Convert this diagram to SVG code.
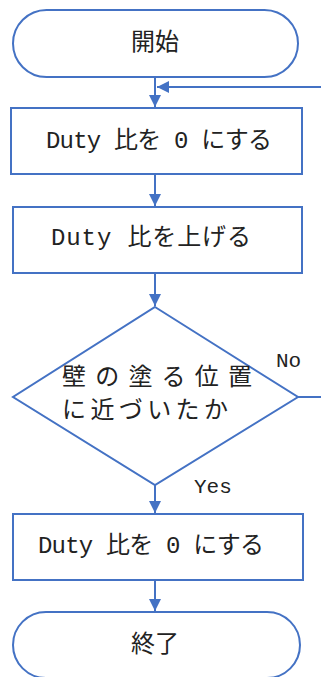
<svg xmlns="http://www.w3.org/2000/svg" width="321" height="677" viewBox="0 0 321 677">
<defs>
<marker id="ah" viewBox="0 0 10 10" refX="10" refY="5" markerWidth="6" markerHeight="6" markerUnits="strokeWidth" orient="auto">
<path d="M0,0 L10,5 L0,10 Z" fill="#4472C4"/>
</marker>
</defs>
<style>
.s{fill:#fff;stroke:#4472C4;stroke-width:2}
.c{fill:none;stroke:#4472C4;stroke-width:2}
.t{font-family:"Liberation Mono","Noto Sans CJK JP",monospace;font-size:24px;fill:#222;text-anchor:middle;dominant-baseline:central}
.l{font-family:"Liberation Mono",monospace;font-size:21px;fill:#222}
</style>
<rect width="321" height="677" fill="#fff"/>
<g id="start"><rect class="s" x="13" y="10" width="285" height="67" rx="33.5"/><text class="t" x="155" y="43">開始</text></g>
<g id="box1"><rect class="s" x="11" y="108" width="291" height="66"/><text class="t" x="159" y="141" textLength="226" lengthAdjust="spacing">Duty 比を 0 にする</text></g>
<g id="box2"><rect class="s" x="13" y="207" width="289" height="66"/><text class="t" x="151" y="238" textLength="200" lengthAdjust="spacing">Duty 比を上げる</text></g>
<g id="decision"><polygon class="s" points="155,307 298,397 155,485 13,397"/>
<text class="t" x="157" y="378" textLength="190" lengthAdjust="spacing">壁の塗る位置</text>
<text class="t" x="145" y="411" textLength="166" lengthAdjust="spacing">に近づいたか</text></g>
<g id="box3"><rect class="s" x="13" y="514" width="290" height="66"/><text class="t" x="151" y="546" textLength="226" lengthAdjust="spacing">Duty 比を 0 にする</text></g>
<g id="end"><rect class="s" x="13" y="612" width="287" height="66" rx="33"/><text class="t" x="155" y="645">終了</text></g>
<g id="connectors">
<line class="c" x1="155" y1="77" x2="155" y2="107" marker-end="url(#ah)"/>
<line class="c" x1="321" y1="87" x2="157" y2="87" marker-end="url(#ah)"/>
<line class="c" x1="155" y1="174" x2="155" y2="206" marker-end="url(#ah)"/>
<line class="c" x1="155" y1="273" x2="155" y2="306" marker-end="url(#ah)"/>
<line class="c" x1="155" y1="485" x2="155" y2="513" marker-end="url(#ah)"/>
<line class="c" x1="155" y1="580" x2="155" y2="611" marker-end="url(#ah)"/>
<line class="c" x1="298" y1="397" x2="321" y2="397"/>
<text class="l" x="276" y="367">No</text>
<text class="l" x="194" y="493">Yes</text>
</g>
</svg>
